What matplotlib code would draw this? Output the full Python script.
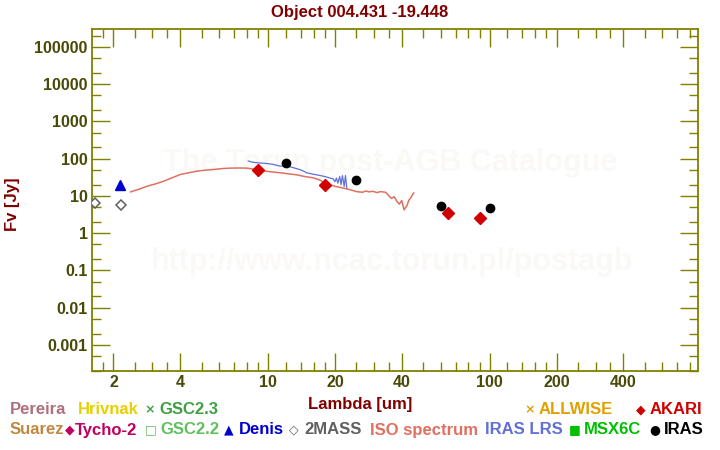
import matplotlib
matplotlib.use("Agg")
import matplotlib.pyplot as plt
from matplotlib.ticker import FixedLocator, FixedFormatter, NullFormatter

plt.rcParams['font.family'] = ['Liberation Sans', 'DejaVu Sans']

# photometry
mass2_wl = [1.65, 2.17]
mass2_fl = [6.6, 5.6]
denis_wl = [2.15]
denis_fl = [19.8]
iras_wl = [12, 25, 60, 100]
iras_fl = [77.5, 27.0, 5.4, 4.75]
akari_wl = [9, 18, 65, 90]
akari_fl = [48.0, 20.1, 3.5, 2.55]

# ISO spectrum
iso_wl = [2.39, 2.6, 2.84, 3.1, 3.37, 3.7, 4.01, 4.4, 4.76, 5.2, 5.66, 6.2, 6.73,
          7.4, 8.0, 8.6, 9.18, 10.0, 11.3, 12.3, 13.4, 14.6, 15.9, 17.0, 18.0,
          18.9, 20.0, 21.0, 22.6, 24.0, 25.0, 26.7, 27.5, 28.5, 29.6, 31.0, 32.0,
          33.9, 35.0, 36.0, 37.0, 38.0, 39.0, 40.0, 41.0, 41.5, 42.3, 43.0, 44.0, 45.3]
iso_fl = [12.8, 15.0, 18.2, 21.0, 24.7, 31.0, 37.5, 42.0, 46.0, 49.0, 51.0, 54.0, 55.5,
          56.0, 55.5, 52.0, 48.0, 45.0, 41.7, 39.0, 36.8, 33.0, 30.6, 27.0, 22.0,
          20.1, 18.0, 17.0, 15.4, 14.0, 13.0, 12.5, 13.5, 12.8, 13.3, 12.2, 13.0,
          12.5, 10.0, 8.5, 9.5, 7.2, 6.0, 7.5, 4.2, 4.75, 5.5, 7.5, 9.0, 12.0]

# IRAS LRS
lrs_wl = [8.12, 8.5, 8.86, 9.83, 10.5, 11.3, 12.1, 13.0, 14.0, 14.9, 16.0, 17.1,
          18.0, 19.0, 19.6, 20.0, 20.3, 20.6, 21.0, 21.3, 21.6, 22.0, 22.3, 22.6]
lrs_fl = [86, 80, 77.5, 74, 70, 62.8, 64, 56.8, 50, 41.7, 38, 35.2,
          33, 30, 28.7, 24, 30, 22, 33, 20, 35, 18, 35, 16.4]

olive = '#808000'
lab_col = '#4a4a08'
dred = '#800000'

fig = plt.figure(figsize=(7.2, 4.5), dpi=100)
ax = fig.add_axes([92 / 720, 79 / 450, 606 / 720, 342 / 450])
ax.set_xscale('log')
ax.set_yscale('log')
ax.set_xlim(1.6, 870)
ax.set_ylim(2e-4, 3e5)

# watermark, behind the data
ax.text(390 / 720, 1 - 163 / 450, 'The Torun post-AGB Catalogue', ha='center', va='center',
        fontsize=22, fontweight='bold', color='#fbf9f6', zorder=0, transform=fig.transFigure)
ax.text(392 / 720, 1 - 262 / 450, 'http://www.ncac.torun.pl/postagb', ha='center', va='center',
        fontsize=22, fontweight='bold', color='#fbf9f6', zorder=0, transform=fig.transFigure)

ax.plot(iso_wl, iso_fl, color='#e07060', lw=1.1, zorder=2)
ax.plot(lrs_wl, lrs_fl, color='#6070d8', lw=0.9, zorder=2)
ax.plot(mass2_wl, mass2_fl, 'D', mfc='white', mec='#606060', mew=1.1, ms=5, ls='none', zorder=3)
ax.plot(denis_wl, denis_fl, '^', color='#0000d0', ms=6.5, ls='none', zorder=3)
ax.plot(akari_wl, akari_fl, 'D', color='#d00000', ms=6, ls='none', zorder=3)
ax.plot(iras_wl, iras_fl, 'o', color='black', ms=6, ls='none', zorder=3)

# ticks
xmaj = [2, 4, 10, 20, 40, 100, 200, 400]
xmin = [1.8, 2.5, 3, 3.5, 5, 6, 7, 8, 9, 12, 14, 16, 18, 25, 30, 35, 50, 60, 70, 80, 90,
        120, 140, 160, 180, 250, 300, 350, 500, 600, 700, 800]
ax.xaxis.set_major_locator(FixedLocator(xmaj))
ax.xaxis.set_major_formatter(FixedFormatter([str(v) for v in xmaj]))
ax.xaxis.set_minor_locator(FixedLocator(xmin))
ax.xaxis.set_minor_formatter(NullFormatter())

ymaj = [1e-3, 1e-2, 1e-1, 1, 10, 100, 1000, 1e4, 1e5]
ylab = ['0.001', '0.01', '0.1', '1', '10', '100', '1000', '10000', '100000']
ymin = []
for d in range(-4, 6):
    ymin += [2 * 10.0 ** d, 5 * 10.0 ** d]
ax.yaxis.set_major_locator(FixedLocator(ymaj))
ax.yaxis.set_major_formatter(FixedFormatter(ylab))
ax.yaxis.set_minor_locator(FixedLocator(ymin))
ax.yaxis.set_minor_formatter(NullFormatter())

ax.tick_params(which='both', direction='in', top=True, right=True, color=olive, width=1)
ax.tick_params(which='major', length=13, labelsize=11.5, labelcolor=lab_col, pad=3)
ax.tick_params(which='minor', length=6.5)
for lbl in ax.get_xticklabels() + ax.get_yticklabels():
    lbl.set_fontweight('bold')
for s in ax.spines.values():
    s.set_color(olive)
    s.set_linewidth(1.3)

fig.text(360 / 720, 1 - 12 / 450, 'Object 004.431 -19.448', ha='center', va='center',
         fontsize=12, fontweight='bold', color=dred)
fig.text(12 / 720, 1 - 204 / 450, 'Fv [Jy]', ha='center', va='center', rotation=90,
         fontsize=12, fontweight='bold', color=dred)
fig.text(360 / 720, 1 - 404 / 450, 'Lambda [um]', ha='center', va='center',
         fontsize=12, fontweight='bold', color=dred)

# legend: (symbol x, text x, row y, symbol, label, colour)
legend_items = [
    (None, 10, 410, '', 'Pereira', '#b07080'),
    (None, 78, 410, '', 'Hrivnak', '#e8d000'),
    (150, 159, 410, '×', 'GSC2.3', '#40a040'),
    (530, 539, 410, '×', 'ALLWISE', '#e0a000'),
    (641, 650, 410, '◆', 'AKARI', '#d00000'),
    (None, 10, 430, '', 'Suarez', '#c08840'),
    (70, 75, 430, '◆', 'Tycho-2', '#c00060'),
    (151, 160, 430, '□', 'GSC2.2', '#60c060'),
    (229, 239, 430, '▲', 'Denis', '#0000d0'),
    (294, 304, 430, '◇', '2MASS', '#606060'),
    (None, 370, 430, '', 'ISO spectrum', '#e07060'),
    (None, 485, 430, '', 'IRAS LRS', '#6070d8'),
    (575, 584, 430, '■', 'MSX6C', '#00c000'),
    (655, 664, 430, '●', 'IRAS', '#000000'),
]
for sx, tx, y, sym, t, c in legend_items:
    if sx is not None:
        fig.text(sx / 720, 1 - y / 450, sym, ha='center', va='center', fontsize=9,
                 fontweight='bold', color=c, family=['DejaVu Sans'])
    fig.text(tx / 720, 1 - y / 450, t, ha='left', va='center', fontsize=12,
             fontweight='bold', color=c)

fig.savefig('out.png', dpi=100)
